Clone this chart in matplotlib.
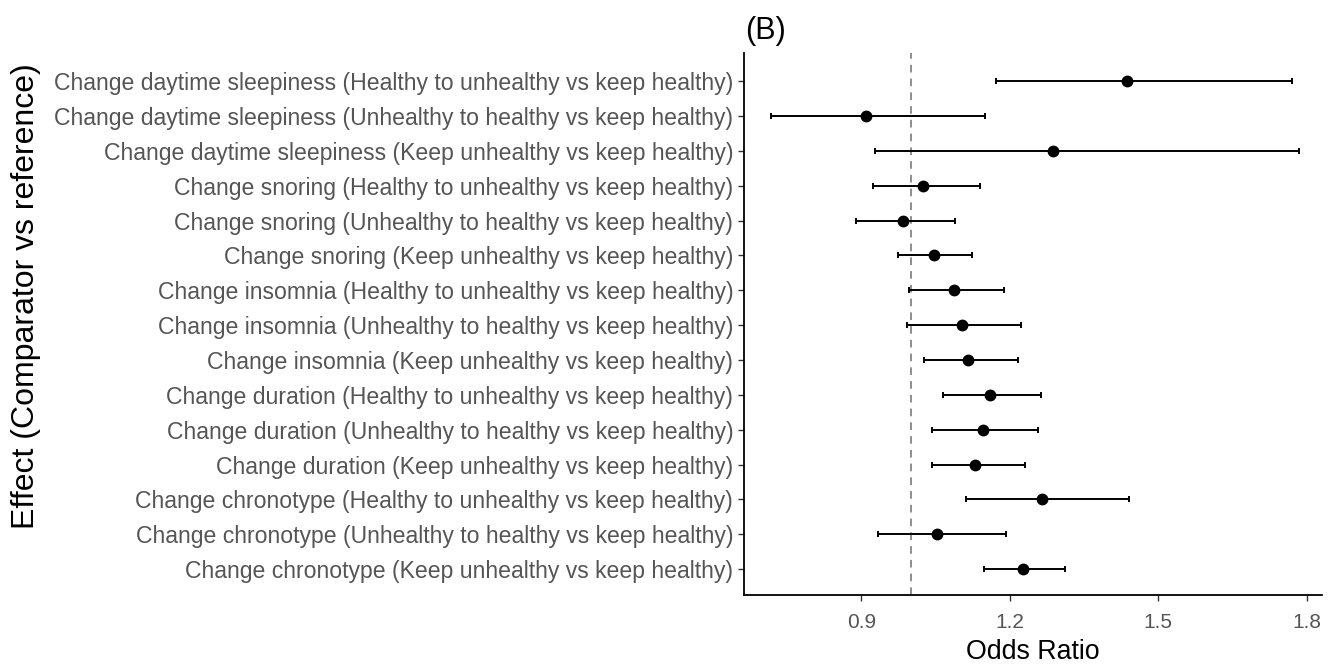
import matplotlib
matplotlib.use("Agg")
import matplotlib.pyplot as plt
import numpy as np

plt.rcParams['font.family'] = ['Liberation Sans', 'DejaVu Sans']

labels = [
    "Change daytime sleepiness (Healthy to unhealthy vs keep healthy)",
    "Change daytime sleepiness (Unhealthy to healthy vs keep healthy)",
    "Change daytime sleepiness (Keep unhealthy vs keep healthy)",
    "Change snoring (Healthy to unhealthy vs keep healthy)",
    "Change snoring (Unhealthy to healthy vs keep healthy)",
    "Change snoring (Keep unhealthy vs keep healthy)",
    "Change insomnia (Healthy to unhealthy vs keep healthy)",
    "Change insomnia (Unhealthy to healthy vs keep healthy)",
    "Change insomnia (Keep unhealthy vs keep healthy)",
    "Change duration (Healthy to unhealthy vs keep healthy)",
    "Change duration (Unhealthy to healthy vs keep healthy)",
    "Change duration (Keep unhealthy vs keep healthy)",
    "Change chronotype (Healthy to unhealthy vs keep healthy)",
    "Change chronotype (Unhealthy to healthy vs keep healthy)",
    "Change chronotype (Keep unhealthy vs keep healthy)",
]
odds_ratio = [1.436, 0.909, 1.288, 1.024, 0.985, 1.047, 1.088, 1.103, 1.115,
              1.160, 1.145, 1.130, 1.265, 1.054, 1.226]
ci_lower = [1.172, 0.717, 0.928, 0.923, 0.889, 0.974, 0.996, 0.992, 1.026,
            1.065, 1.042, 1.042, 1.111, 0.934, 1.148]
ci_upper = [1.770, 1.150, 1.785, 1.139, 1.089, 1.123, 1.188, 1.223, 1.216,
            1.264, 1.257, 1.231, 1.441, 1.192, 1.311]
xticks = [0.9, 1.2, 1.5, 1.8]

W, H = 1342, 670
fig = plt.figure(figsize=(W / 100, H / 100), dpi=100)
left, right, top, bottom = 744.3, 1322, 53.3, 595.3
ax = fig.add_axes([left / W, 1 - bottom / H, (right - left) / W, (bottom - top) / H])

n = len(labels)
y = np.arange(n, 0, -1)
or_ = np.array(odds_ratio)
lo = np.array(ci_lower)
hi = np.array(ci_upper)

ax.axvline(1.0, color='#707070', lw=1.1, ls=(0, (5, 4)), zorder=1)
ax.errorbar(or_, y, xerr=[or_ - lo, hi - or_], fmt='o', color='black',
            ms=7.5, lw=1.4, capsize=2.2, capthick=1.4, zorder=3)

ax.set_xlim(0.6636, 1.831)
ax.set_ylim(0.25, 15.8)
ax.set_xticks(xticks)
ax.set_xticklabels([str(t) for t in xticks])
ax.set_yticks(y)
ax.set_yticklabels(labels)

for s in ['top', 'right']:
    ax.spines[s].set_visible(False)
for s in ['left', 'bottom']:
    ax.spines[s].set_linewidth(1.3)
    ax.spines[s].set_color('black')

ax.tick_params(axis='both', length=4, width=1.0, color='#333333',
               labelcolor='#555555')
ax.tick_params(axis='y', labelsize=16.6, pad=4)
ax.tick_params(axis='x', labelsize=15, pad=9)

ax.set_xlabel("Odds Ratio", fontsize=19.3, color='black', labelpad=5)
fig.text(26 / W, 1 - 296 / H, "Effect (Comparator vs reference)", rotation=90,
         fontsize=23, ha='center', va='center', color='black')
fig.text(745 / W, 1 - 31 / H, "(B)", fontsize=22, ha='left', va='center',
         color='black')

fig.savefig("out.png", dpi=100)
